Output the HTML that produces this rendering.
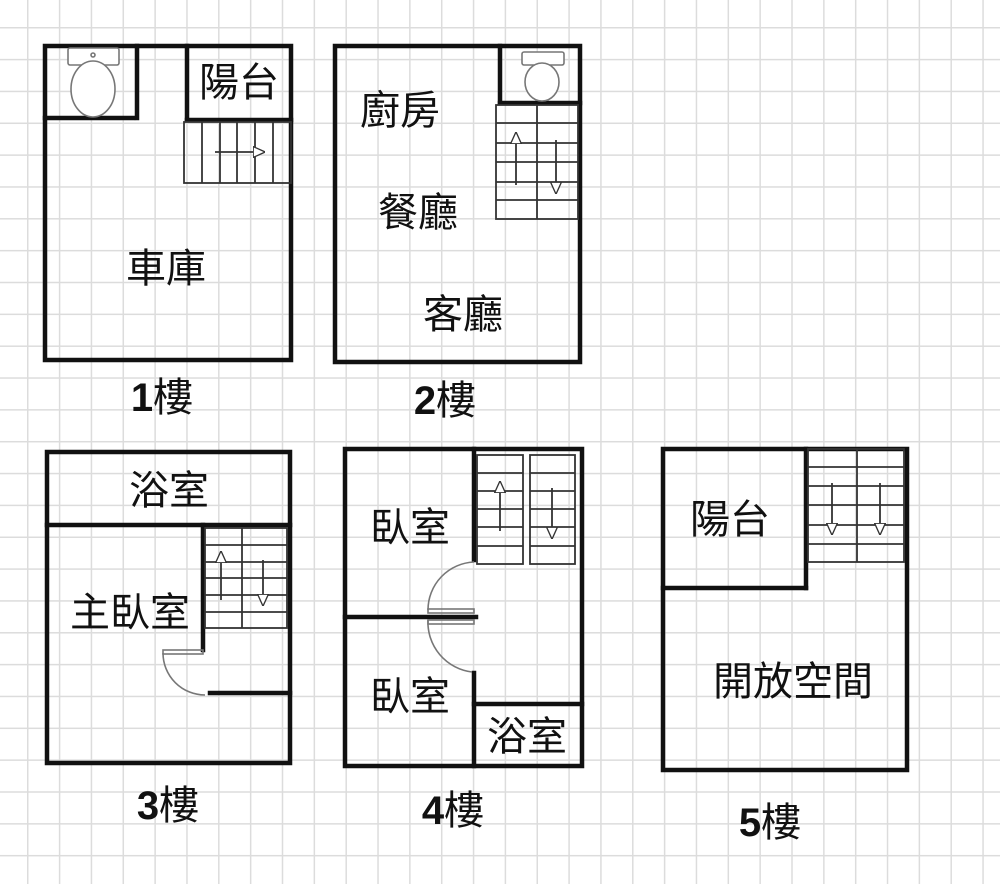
<!DOCTYPE html>
<html><head><meta charset="utf-8"><style>
html,body{margin:0;padding:0;background:#fff;}
body{width:1000px;height:884px;overflow:hidden;
background-image:linear-gradient(to right,#dcdcdc 1.6px,transparent 1.6px),linear-gradient(to bottom,#dcdcdc 1.6px,transparent 1.6px);
background-size:31.85px 31.85px;background-position:27px 27px;}
svg{position:absolute;left:0;top:0;}
text{font-family:"Liberation Sans","Noto Sans CJK TC",sans-serif;fill:#111;}
.c{font-family:"Noto Sans CJK TC",sans-serif;}
</style></head><body>
<svg width="1000" height="884" viewBox="0 0 1000 884">
<defs>
<marker id="tri" viewBox="0 0 10 10" refX="9" refY="5" markerWidth="12" markerHeight="12" orient="auto" markerUnits="userSpaceOnUse">
<path d="M0,0.5 L10,5 L0,9.5 Z" fill="#fff" stroke="#333" stroke-width="1.1"/></marker>
</defs>
<g fill="none" stroke="#111" stroke-width="4.5" stroke-linecap="square">
<rect x="45" y="46" width="246" height="314"/>
<line x1="137" y1="46" x2="137" y2="118"/><line x1="45" y1="118" x2="133" y2="118"/>
<line x1="187" y1="46" x2="187" y2="120"/><line x1="187" y1="120" x2="291" y2="120"/>
<rect x="335" y="46" width="245" height="316"/>
<line x1="500" y1="46" x2="500" y2="103"/><line x1="500" y1="103" x2="580" y2="103"/>
<rect x="47" y="452" width="243" height="311"/>
<line x1="47" y1="525" x2="290" y2="525"/>
<line x1="203" y1="525" x2="203" y2="650"/>
<line x1="210" y1="693" x2="290" y2="693"/>
<rect x="345" y="449" width="237" height="317"/>
<line x1="474" y1="449" x2="474" y2="560"/>
<line x1="345" y1="617" x2="476" y2="617"/>
<line x1="474" y1="673" x2="474" y2="766"/>
<line x1="474" y1="704" x2="582" y2="704"/>
<rect x="663" y="449" width="244" height="321"/>
<line x1="806" y1="449" x2="806" y2="588"/><line x1="663" y1="588" x2="806" y2="588"/>
</g>
<g fill="none" stroke="#333" stroke-width="1.8">
<rect x="184" y="122" width="107" height="61"/>
<line x1="202" y1="122" x2="202" y2="183"/><line x1="220" y1="122" x2="220" y2="183"/><line x1="237" y1="122" x2="237" y2="183"/><line x1="255" y1="122" x2="255" y2="183"/><line x1="273" y1="122" x2="273" y2="183"/>
<line x1="215" y1="152" x2="264" y2="152" marker-end="url(#tri)"/>
<rect x="496" y="105" width="82" height="114"/>
<line x1="537" y1="105" x2="537" y2="219"/>
<line x1="496" y1="123" x2="578" y2="123"/><line x1="496" y1="143" x2="578" y2="143"/><line x1="496" y1="162" x2="578" y2="162"/><line x1="496" y1="182" x2="578" y2="182"/><line x1="496" y1="200" x2="578" y2="200"/>
<line x1="516" y1="185" x2="516" y2="133" marker-end="url(#tri)"/>
<line x1="556" y1="140" x2="556" y2="193" marker-end="url(#tri)"/>
<rect x="205" y="528" width="82" height="100"/>
<line x1="242" y1="528" x2="242" y2="628"/>
<line x1="205" y1="545" x2="287" y2="545"/><line x1="205" y1="562" x2="287" y2="562"/><line x1="205" y1="578" x2="287" y2="578"/><line x1="205" y1="595" x2="287" y2="595"/><line x1="205" y1="612" x2="287" y2="612"/>
<line x1="221" y1="600" x2="221" y2="552" marker-end="url(#tri)"/>
<line x1="263" y1="560" x2="263" y2="605" marker-end="url(#tri)"/>
<rect x="477" y="455" width="46" height="109"/><rect x="530" y="455" width="45" height="109"/>
<line x1="477" y1="473" x2="523" y2="473"/><line x1="477" y1="491" x2="523" y2="491"/><line x1="477" y1="509" x2="523" y2="509"/><line x1="477" y1="527" x2="523" y2="527"/><line x1="477" y1="546" x2="523" y2="546"/>
<line x1="530" y1="473" x2="575" y2="473"/><line x1="530" y1="491" x2="575" y2="491"/><line x1="530" y1="509" x2="575" y2="509"/><line x1="530" y1="527" x2="575" y2="527"/><line x1="530" y1="546" x2="575" y2="546"/>
<line x1="500" y1="531" x2="500" y2="482" marker-end="url(#tri)"/>
<line x1="552" y1="488" x2="552" y2="538" marker-end="url(#tri)"/>
<rect x="808" y="449" width="96" height="113"/>
<line x1="857" y1="449" x2="857" y2="562"/>
<line x1="808" y1="467" x2="904" y2="467"/><line x1="808" y1="486" x2="904" y2="486"/><line x1="808" y1="505" x2="904" y2="505"/><line x1="808" y1="525" x2="904" y2="525"/><line x1="808" y1="544" x2="904" y2="544"/>
<line x1="832" y1="483" x2="832" y2="534" marker-end="url(#tri)"/>
<line x1="880" y1="483" x2="880" y2="534" marker-end="url(#tri)"/>
</g>
<g fill="#fff" stroke="#777" stroke-width="1.6">
<rect x="68" y="48" width="51" height="17" rx="2"/>
<ellipse cx="93" cy="89" rx="22" ry="28"/>
<circle cx="93" cy="55" r="2"/>
<rect x="522" y="52" width="42" height="13" rx="2"/>
<ellipse cx="542" cy="82" rx="17" ry="19"/>
</g>
<g fill="none" stroke="#777" stroke-width="1.6">
<path d="M163,653 A42,42 0 0 0 205,695"/>
<rect x="163" y="650" width="40" height="4"/>
<path d="M474,562 A48,48 0 0 0 428,610"/>
<path d="M428,620 A50,50 0 0 0 472,672"/>
<rect x="428" y="609" width="46" height="4"/>
<rect x="428" y="620" width="46" height="4"/>
</g>
<g class="c" font-size="40" text-anchor="middle">
<text class="c" x="239" y="96">陽台</text>
<text class="c" x="166" y="282">車庫</text>
<text class="c" x="400" y="124">廚房</text>
<text class="c" x="418" y="226">餐廳</text>
<text class="c" x="463" y="328">客廳</text>
<text class="c" x="169" y="504">浴室</text>
<text class="c" x="130" y="626">主臥室</text>
<text class="c" x="410" y="541">臥室</text>
<text class="c" x="410" y="710">臥室</text>
<text class="c" x="527" y="750">浴室</text>
<text class="c" x="730" y="533">陽台</text>
<text class="c" x="793" y="695">開放空間</text>
</g>
<g font-size="40" text-anchor="middle">
<text x="162" y="411"><tspan font-weight="bold">1</tspan><tspan class="c">樓</tspan></text>
<text x="445" y="414"><tspan font-weight="bold">2</tspan><tspan class="c">樓</tspan></text>
<text x="168" y="819"><tspan font-weight="bold">3</tspan><tspan class="c">樓</tspan></text>
<text x="453" y="824"><tspan font-weight="bold">4</tspan><tspan class="c">樓</tspan></text>
<text x="770" y="836"><tspan font-weight="bold">5</tspan><tspan class="c">樓</tspan></text>
</g>
</svg>
</body></html>
